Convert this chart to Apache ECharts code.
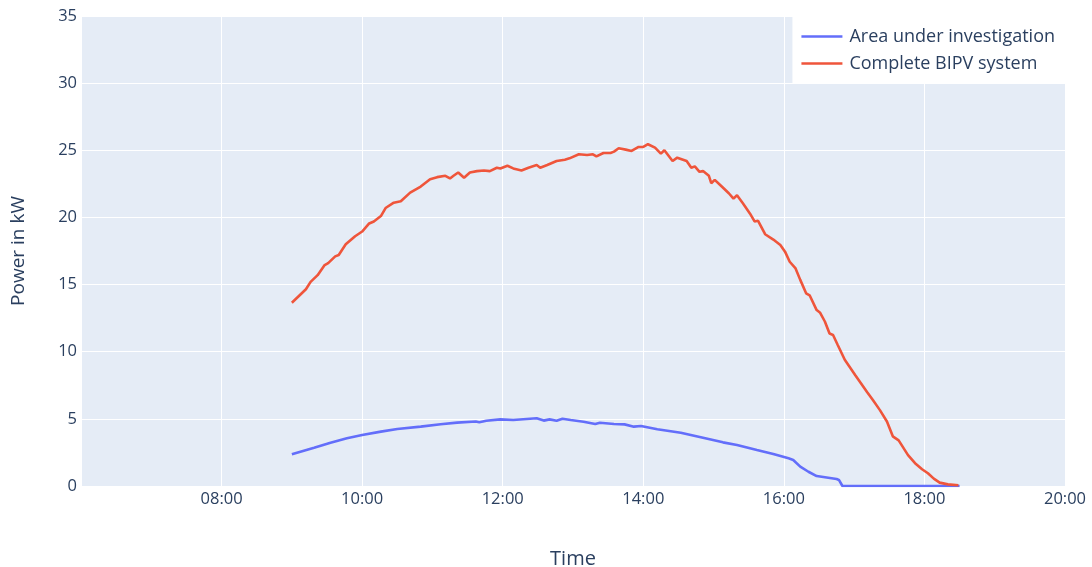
<!DOCTYPE html>
<html>
<head>
<meta charset="utf-8">
<script src="https://cdn.jsdelivr.net/npm/echarts@6/dist/echarts.min.js"></script>
<style>
html,body{margin:0;padding:0;background:#fff;}
#chart{width:1092px;height:567px;}
</style>
</head>
<body>
<div id="chart"></div>
<script>
// ---- data ----
const seriesNames = ["Area under investigation", "Complete BIPV system"];

const blueTimes = ["09:00","09:19","09:33","09:47","10:00","10:16","10:30","10:50","11:07","11:21","11:37","11:40","11:46","11:58","12:09","12:29","12:35","12:40","12:46","12:51","12:58","13:09","13:19","13:23","13:35","13:44","13:52","13:58","14:12","14:32","14:51","15:08","15:20","15:37","15:51","16:04","16:08","16:14","16:21","16:28","16:45","16:47","16:50","18:30"];
const blueValues = [2.36,2.85,3.22,3.55,3.8,4.05,4.25,4.42,4.6,4.72,4.8,4.75,4.86,4.96,4.92,5.04,4.87,4.96,4.86,5.01,4.91,4.79,4.62,4.71,4.62,4.59,4.42,4.47,4.22,3.97,3.6,3.25,3.05,2.68,2.38,2.06,1.94,1.44,1.06,0.74,0.52,0.45,0.0,0.0];

const redTimes = ["09:00","09:06","09:12","09:16","09:22","09:28","09:31","09:37","09:40","09:46","09:50","09:54","10:00","10:06","10:10","10:16","10:20","10:27","10:33","10:41","10:50","10:58","11:04","11:11","11:15","11:18","11:22","11:27","11:32","11:38","11:44","11:49","11:55","11:58","12:04","12:09","12:16","12:22","12:29","12:32","12:38","12:46","12:53","12:57","13:05","13:12","13:17","13:20","13:26","13:32","13:35","13:39","13:45","13:50","13:56","14:00","14:04","14:10","14:15","14:18","14:25","14:29","14:37","14:41","14:44","14:48","14:51","14:56","14:58","15:01","15:07","15:13","15:17","15:20","15:25","15:31","15:35","15:38","15:44","15:51","15:57","16:01","16:05","16:10","16:14","16:19","16:22","16:28","16:31","16:35","16:39","16:42","16:46","16:52","17:01","17:11","17:16","17:22","17:28","17:33","17:38","17:46","17:52","17:58","18:03","18:08","18:13","18:20","18:29"];
const redValues = [13.65,14.15,14.65,15.2,15.7,16.45,16.6,17.1,17.2,18.0,18.3,18.6,18.95,19.55,19.7,20.1,20.7,21.1,21.2,21.85,22.3,22.85,23.0,23.1,22.9,23.1,23.35,22.95,23.35,23.45,23.5,23.45,23.7,23.65,23.85,23.65,23.5,23.7,23.9,23.7,23.9,24.2,24.3,24.4,24.7,24.65,24.7,24.55,24.8,24.8,24.9,25.15,25.05,24.95,25.25,25.25,25.45,25.2,24.75,25.0,24.2,24.45,24.2,23.7,23.8,23.4,23.45,23.1,22.55,22.8,22.3,21.8,21.4,21.65,21.05,20.3,19.7,19.75,18.75,18.35,17.95,17.45,16.7,16.2,15.35,14.35,14.2,13.1,12.9,12.25,11.35,11.25,10.5,9.4,8.25,7.0,6.4,5.65,4.8,3.7,3.4,2.3,1.7,1.25,0.95,0.55,0.25,0.12,0.05];

const xMinTime = "06:00", xMaxTime = "20:00";
const yTicks = [0,5,10,15,20,25,30,35];

// ---- helpers ----
function toMin(t){const p=t.split(":");return (+p[0])*60+(+p[1]);}
function fmt(m){const h=Math.floor(m/60),mm=Math.round(m%60);return String(h).padStart(2,"0")+":"+String(mm).padStart(2,"0");}
function pairs(ts,vs){return ts.map((t,i)=>[toMin(t),vs[i]]);}

const font = "'Open Sans', 'DejaVu Sans', sans-serif";
const textColor = "#2a3f5f";
const colors = ["#636EFA", "#EF553B"];

const chart = echarts.init(document.getElementById("chart"), null, {renderer:"canvas"});
chart.setOption({
  animation:false,
  backgroundColor:"#ffffff",
  textStyle:{fontFamily:font},
  grid:{left:81,right:27,top:16,bottom:81,containLabel:false,outerBoundsMode:"none",show:true,backgroundColor:"#E5ECF6",borderWidth:0},
  legend:{
    orient:"vertical",right:27,top:17,
    backgroundColor:"#ffffff",
    padding:[10,10,10,9],
    itemGap:8,itemWidth:41,itemHeight:2.6,
    icon:"rect",
    textStyle:{fontFamily:font,fontSize:18,color:textColor,padding:[0,0,0,2],lineHeight:19},
    data:seriesNames
  },
  xAxis:{
    type:"value",min:toMin(xMinTime),max:toMin(xMaxTime),interval:120,
    name:"Time",nameLocation:"middle",nameGap:63,
    nameTextStyle:{fontFamily:font,fontSize:20,color:textColor},
    axisLine:{show:false},axisTick:{show:false},
    axisLabel:{fontFamily:font,fontSize:16.5,color:textColor,margin:5,showMinLabel:false,formatter:v=>fmt(v)},
    splitLine:{show:true,lineStyle:{color:"#ffffff",width:1}}
  },
  yAxis:{
    type:"value",min:yTicks[0],max:yTicks[yTicks.length-1],interval:5,
    name:"Power in kW",nameLocation:"middle",nameGap:53,
    nameTextStyle:{fontFamily:font,fontSize:19,color:textColor},
    axisLine:{show:false},axisTick:{show:false},
    axisLabel:{fontFamily:font,fontSize:16.5,color:textColor,margin:4},
    splitLine:{show:true,lineStyle:{color:"#ffffff",width:1}}
  },
  series:[
    {name:seriesNames[0],type:"line",data:pairs(blueTimes,blueValues),showSymbol:false,symbol:"none",
     lineStyle:{color:colors[0],width:2.6},itemStyle:{color:colors[0]},z:2},
    {name:seriesNames[1],type:"line",data:pairs(redTimes,redValues),showSymbol:false,symbol:"none",
     lineStyle:{color:colors[1],width:2.6},itemStyle:{color:colors[1]},z:3}
  ]
});
</script>
</body>
</html>
